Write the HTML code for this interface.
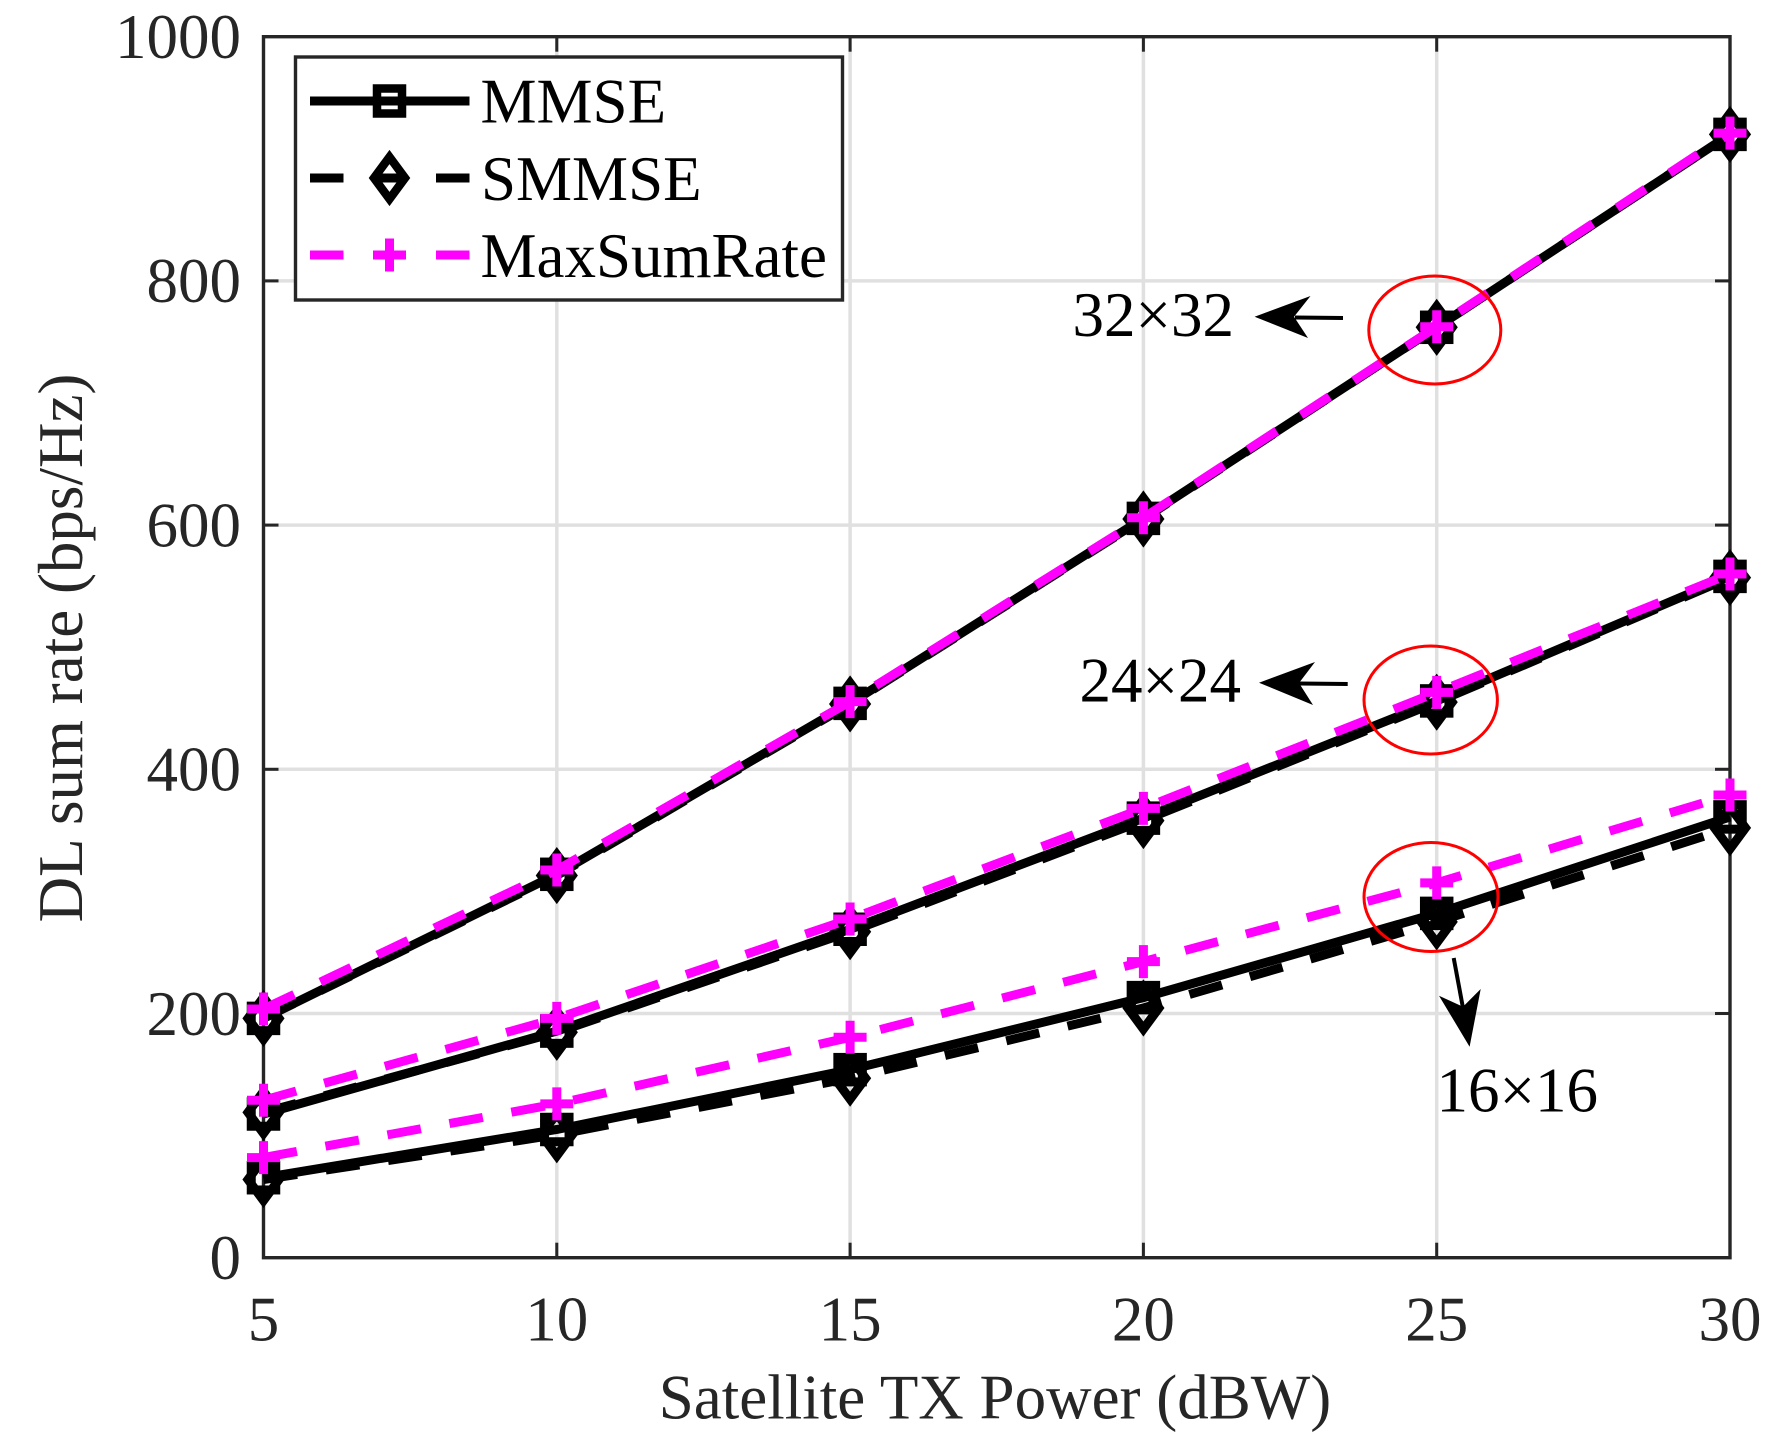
<!DOCTYPE html>
<html lang="en">
<head>
<meta charset="utf-8">
<title>DL sum rate vs satellite TX power</title>
<style>
html,body{margin:0;padding:0;background:#fff}
svg{display:block}
text{font-family:"Liberation Serif","Times New Roman",serif;font-size:63px}
</style>
</head>
<body>
<svg id="chart" xmlns="http://www.w3.org/2000/svg" width="1779" height="1448" viewBox="0 0 1779 1448">
  <rect x="0" y="0" width="1779" height="1448" fill="#fff"/>
  <g id="grid"></g>
  <g id="axes"></g>
  <g id="series"></g>

  <text x="995" y="1418.500" text-anchor="middle" fill="#262626">Satellite TX Power (dBW)</text>
  <text x="82" y="648" text-anchor="middle" fill="#262626" transform="rotate(-90 82 648)">DL sum rate (bps/Hz)</text>

  <g>
    <ellipse cx="1434.8" cy="330" rx="66" ry="54" fill="none" stroke="#ff0000" stroke-width="3"/>
    <line x1="1343" y1="318" x2="1295" y2="317.5" stroke="#000" stroke-width="4"/>
    <polygon points="1254.6,316.7 1310.5,296 1294,316.7 1308,338" fill="#000"/>
    <text x="1072.5" y="336" fill="#000">32×32</text>
  </g>
  <g>
    <ellipse cx="1430.7" cy="700" rx="66.7" ry="54" fill="none" stroke="#ff0000" stroke-width="3"/>
    <line x1="1347.7" y1="684" x2="1299" y2="683.5" stroke="#000" stroke-width="4"/>
    <polygon points="1259,682.7 1315,662 1299,683 1313,705" fill="#000"/>
    <text x="1079.5" y="701.7" fill="#000">24×24</text>
  </g>
  <g>
    <ellipse cx="1431" cy="897" rx="67" ry="54.5" fill="none" stroke="#ff0000" stroke-width="3"/>
    <line x1="1453.7" y1="958" x2="1463" y2="1008" stroke="#000" stroke-width="4"/>
    <polygon points="1469.6,1046.7 1439,995.7 1463,1006.7 1480.7,989" fill="#000"/>
    <text x="1436.5" y="1111.7" fill="#000">16×16</text>
  </g>

  <g>
    <rect x="295.5" y="57" width="547" height="243" fill="#fff" stroke="#262626" stroke-width="3.4"/>
    <g>
      <line x1="310" y1="101" x2="469.5" y2="101" stroke="#000" stroke-width="9"/>
      <rect x="377" y="88.5" width="25" height="25" fill="none" stroke="#000" stroke-width="8.5"/>
      <text x="480.5" y="122.7" fill="#000">MMSE</text>
    </g>
    <g>
      <line x1="310" y1="178" x2="343.5" y2="178" stroke="#000" stroke-width="9"/>
      <line x1="373" y1="178" x2="406" y2="178" stroke="#000" stroke-width="9"/>
      <line x1="436" y1="178" x2="469.5" y2="178" stroke="#000" stroke-width="9"/>
      <polygon points="389.5,157 405,178 389.5,199 374,178" fill="none" stroke="#000" stroke-width="8.5"/>
      <text x="481" y="200" fill="#000">SMMSE</text>
    </g>
    <g>
      <line x1="310" y1="255" x2="343.5" y2="255" stroke="#ff00ff" stroke-width="9"/>
      <line x1="436" y1="255" x2="469.5" y2="255" stroke="#ff00ff" stroke-width="9"/>
      <path d="M373 255H406M389.5 238.500V271.500" fill="none" stroke="#ff00ff" stroke-width="9"/>
      <text x="480.5" y="277" fill="#000">MaxSumRate</text>
    </g>
  </g>
</svg>
<script>
var xCategories = [5, 10, 15, 20, 25, 30];
var yTickValues = [0, 200, 400, 600, 800, 1000];
var xTickLabels = ['5', '10', '15', '20', '25', '30'];
var yTickLabels = ['0', '200', '400', '600', '800', '1000'];

var mmse16 = [65.5, 105, 154, 213, 282, 361];
var mmse24 = [117.7, 185.6, 269, 360, 456, 558];
var mmse32 = [196, 314, 454, 605.5, 762, 920];

var smmse16 = [64, 100.7, 147, 204.5, 275, 352];
var smmse24 = [119, 184.6, 267, 358, 455, 557];
var smmse32 = [196, 313, 453.5, 605, 762, 920];

var maxSumRate16 = [82, 126, 180.5, 242.5, 307, 379];
var maxSumRate24 = [129, 196, 277.4, 368, 463, 560];
var maxSumRate32 = [203.7, 317.5, 455.4, 606, 762.5, 921];

var NS = 'http://www.w3.org/2000/svg';
var plotLeft = 263.5, plotRight = 1730, plotTop = 36.7, plotBottom = 1257.7;

function xScale(v) {
  return plotLeft + (v - 5) / 25 * (plotRight - plotLeft);
}
function yScale(v) {
  return plotBottom - v / 1000 * (plotBottom - plotTop);
}
function make(tag, parent, attrs) {
  var node = document.createElementNS(NS, tag);
  for (var k in attrs) node.setAttribute(k, attrs[k]);
  parent.appendChild(node);
  return node;
}

var gridGroup = document.getElementById('grid');
var axesGroup = document.getElementById('axes');
var seriesGroup = document.getElementById('series');
var AXIS = '#262626', GRID = '#e0e0e0', TICK = 15;

xCategories.forEach(function (c, i) {
  var x = xScale(c);
  if (i > 0 && i < xCategories.length - 1) {
    var g = make('line', gridGroup, {x1: x, y1: plotTop, x2: x, y2: plotBottom, stroke: GRID, 'stroke-width': 3.5});
    
    
    var t1 = make('line', axesGroup, {x1: x, y1: plotBottom, x2: x, y2: plotBottom - TICK, stroke: AXIS, 'stroke-width': 3});
    
    
    var t2 = make('line', axesGroup, {x1: x, y1: plotTop, x2: x, y2: plotTop + TICK, stroke: AXIS, 'stroke-width': 3});
    
    
  }
  var lab = make('text', axesGroup, {x: x, y: 1340.7, 'text-anchor': 'middle', fill: AXIS});
  
  
  lab.textContent = xTickLabels[i];
});

yTickValues.forEach(function (v, i) {
  var y = yScale(v);
  if (i > 0 && i < yTickValues.length - 1) {
    var g = make('line', gridGroup, {x1: plotLeft, y1: y, x2: plotRight, y2: y, stroke: GRID, 'stroke-width': 3.5});
    
    
    var t1 = make('line', axesGroup, {x1: plotLeft, y1: y, x2: plotLeft + TICK, y2: y, stroke: AXIS, 'stroke-width': 3});
    
    
    var t2 = make('line', axesGroup, {x1: plotRight, y1: y, x2: plotRight - TICK, y2: y, stroke: AXIS, 'stroke-width': 3});
    
    
  }
  var lab = make('text', axesGroup, {x: 241, y: y + 21.3, 'text-anchor': 'end', fill: AXIS});
  
  
  lab.textContent = yTickLabels[i];
});

var frame = make('rect', axesGroup, {x: plotLeft, y: plotTop, width: plotRight - plotLeft, height: plotBottom - plotTop, fill: 'none', stroke: AXIS, 'stroke-width': 3.4});



function drawSeries(values, kind, color, dashed) {
  var pts = values.map(function (v, i) {
    return xScale(xCategories[i]) + ',' + yScale(v);
  }).join(' ');
  var line = make('polyline', seriesGroup, {points: pts, fill: 'none', stroke: color, 'stroke-width': 9, 'stroke-linejoin': 'round'});
  if (dashed) line.setAttribute('stroke-dasharray', '34 29');
  
  
  values.forEach(function (v, i) {
    var x = xScale(xCategories[i]), y = yScale(v), m;
    if (kind === 'mmse') {
      m = make('rect', seriesGroup, {x: x - 12.25, y: y - 12.25, width: 24.5, height: 24.5, fill: 'none', stroke: color, 'stroke-width': 9});
    } else if (kind === 'smmse') {
      m = make('polygon', seriesGroup, {points: x + ',' + (y - 21) + ' ' + (x + 15.5) + ',' + y + ' ' + x + ',' + (y + 21) + ' ' + (x - 15.5) + ',' + y, fill: 'none', stroke: color, 'stroke-width': 9});
    } else {
      m = make('path', seriesGroup, {d: 'M' + (x - 16.5) + ' ' + y + 'H' + (x + 16.5) + 'M' + x + ' ' + (y - 16.5) + 'V' + (y + 16.5), fill: 'none', stroke: color, 'stroke-width': 9});
    }
    
    
  });
}

drawSeries(mmse16, 'mmse', '#000', false);
drawSeries(mmse24, 'mmse', '#000', false);
drawSeries(mmse32, 'mmse', '#000', false);
drawSeries(smmse16, 'smmse', '#000', true);
drawSeries(smmse24, 'smmse', '#000', true);
drawSeries(smmse32, 'smmse', '#000', true);
drawSeries(maxSumRate16, 'maxsumrate', '#ff00ff', true);
drawSeries(maxSumRate24, 'maxsumrate', '#ff00ff', true);
drawSeries(maxSumRate32, 'maxsumrate', '#ff00ff', true);
</script>
</body>
</html>
